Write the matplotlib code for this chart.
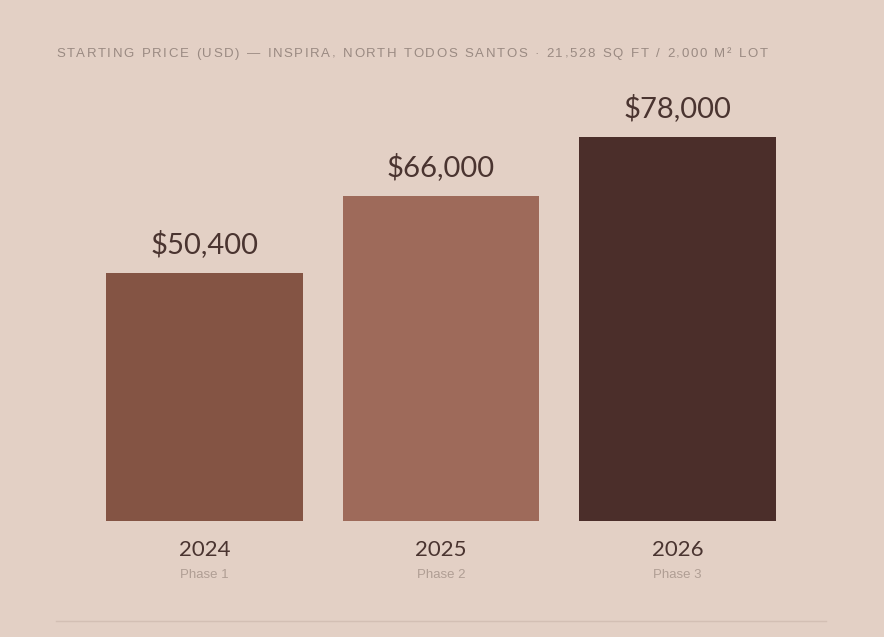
import matplotlib
matplotlib.use("Agg")
import matplotlib.pyplot as plt

# data
years = ["2024", "2025", "2026"]
phases = ["Phase 1", "Phase 2", "Phase 3"]
prices = [50400, 66000, 78000]
colors = ["#845444", "#9e6a5a", "#4b2e2a"]
title = "STARTING PRICE (USD) \u2014 INSPIRA, NORTH TODOS SANTOS \u00b7 21,528 SQ FT / 2,000 M\u00b2 LOT"

bg = "#e3d0c5"
W, H = 884, 637
fig = plt.figure(figsize=(W / 100, H / 100), dpi=100, facecolor=bg)

# axes placed in pixel coords: x 86..796, y 80..521 (from top)
ax = fig.add_axes([86 / W, (H - 521) / H, 710 / W, 441 / H])
ax.set_facecolor(bg)
x = range(len(prices))
ax.bar(x, prices, width=0.831, color=colors)
ax.set_xlim(-0.5, 2.5)
ax.set_ylim(0, 441 * 203.1)
ax.axis("off")

for i, p in enumerate(prices):
    ax.annotate(f"${p:,}", (i, p), xytext=(0, 11), textcoords="offset points",
                ha="center", va="bottom", fontsize=21, family="Lato", color="#4a3430")
    ax.annotate(years[i], (i, 0), xytext=(0, -14), textcoords="offset points",
                ha="center", va="top", fontsize=16, family="Lato", color="#4a3430")
    ax.annotate(phases[i], (i, 0), xytext=(0, -34.5), textcoords="offset points",
                ha="center", va="top", fontsize=9.5, family="Liberation Sans", color="#b09e94")

# title with letter spacing, drawn char by char
fig.canvas.draw()
renderer = fig.canvas.get_renderer()
xpos = 56
spacing = 1.55
for ch in title:
    t = fig.text(xpos / W, (H - 54) / H, ch, fontsize=9.5, family="Liberation Sans",
                 color="#9a8a82", va="center", ha="left")
    w = t.get_window_extent(renderer).width if ch != " " else 4.5
    xpos += w + spacing

# bottom rule
fig.add_artist(plt.Line2D([56 / W, 826 / W], [(H - 621) / H] * 2, color="#d3bfb4", lw=1))

fig.savefig("out.png", dpi=100, facecolor=bg)
